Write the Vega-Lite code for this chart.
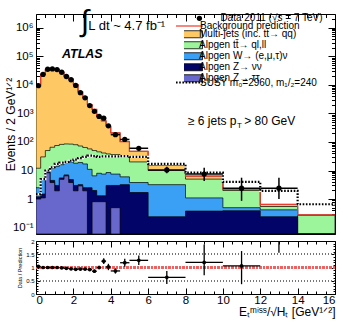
{
  "$schema": "https://vega.github.io/schema/vega-lite/v6.json",
  "padding": {"left": 3, "top": 6, "right": 12, "bottom": 2},
  "bounds": "flush",
  "spacing": 7,
  "config": {
    "font": "Liberation Sans",
    "view": {"stroke": "black", "strokeWidth": 1},
    "axis": {"domain": false, "grid": false, "tickColor": "black", "labelColor": "black", "titleColor": "black", "titleFontWeight": "normal", "zindex": 1},
    "legend": {"padding": 0, "labelFontSize": 10, "labelLimit": 300, "labelOffset": 5, "title": null, "orient": "none", "symbolStrokeColor": "black"}
  },
  "datasets": {
    "hist": [
      {"x": 0, "mj": 9000, "tt": 12, "w": 2.5, "znn": 1.2, "ztt": 1.0, "susy": 1.5},
      {"x": 0.25, "mj": 23000, "tt": 30, "w": 5, "znn": 1.5, "ztt": 1.1, "susy": 5},
      {"x": 0.5, "mj": 35000, "tt": 50, "w": 8.5, "znn": 9.0, "ztt": 8.3, "susy": 10},
      {"x": 0.75, "mj": 36000, "tt": 65, "w": 12, "znn": 4.5, "ztt": 3.8, "susy": 13},
      {"x": 1, "mj": 34000, "tt": 75, "w": 14, "znn": 3.0, "ztt": 1.95, "susy": 17},
      {"x": 1.25, "mj": 27800, "tt": 82, "w": 16, "znn": 5.5, "ztt": 4.9, "susy": 19},
      {"x": 1.5, "mj": 20100, "tt": 85, "w": 19, "znn": 7.0, "ztt": 6.5, "susy": 20},
      {"x": 1.75, "mj": 15800, "tt": 84, "w": 20, "znn": 4.8, "ztt": 3.8, "susy": 22},
      {"x": 2, "mj": 10200, "tt": 80, "w": 18, "znn": 3.0, "ztt": 1.95, "susy": 24},
      {"x": 2.25, "mj": 5640, "tt": 72, "w": 19, "znn": 3.2, "ztt": 2.9, "susy": 27},
      {"x": 2.5, "mj": 3720, "tt": 64, "w": 17, "znn": 2.5, "ztt": 1.95, "susy": 30},
      {"x": 2.75, "mj": 2030, "tt": 57, "w": 11, "znn": 2.5, "ztt": 0.001, "susy": 33},
      {"x": 3, "mj": 1370, "tt": 50, "w": 6.5, "znn": 2.0, "ztt": 0.81, "susy": 32},
      {"x": 3.25, "mj": 780, "tt": 45, "w": 8, "znn": 1.3, "ztt": 0.81, "susy": 30},
      {"x": 3.5, "mj": 550, "tt": 41, "w": 7.5, "znn": 1.3, "ztt": 0.81, "susy": 31},
      {"x": 3.75, "mj": 358, "tt": 38, "w": 8.5, "znn": 3.0, "ztt": 0.001, "susy": 31},
      {"x": 4, "mj": 207, "tt": 36, "w": 7.5, "znn": 3.0, "ztt": 0.5, "susy": 31},
      {"x": 4.5, "mj": 103, "tt": 32, "w": 6, "znn": 3.2, "ztt": 0.001, "susy": 32},
      {"x": 5, "mj": 47, "tt": 20, "w": 3.8, "znn": 1.7, "ztt": 0.001, "susy": 30},
      {"x": 6, "mj": 15.5, "tt": 10, "w": 3.2, "znn": 0.24, "ztt": 0.001, "susy": 17},
      {"x": 8, "mj": 6.4, "tt": 5.0, "w": 1.1, "znn": 0.38, "ztt": 0.001, "susy": 8.5},
      {"x": 10, "mj": 2.25, "tt": 2.0, "w": 0.5, "znn": 0.39, "ztt": 0.001, "susy": 4.0},
      {"x": 12, "mj": 0.65, "tt": 0.55, "w": 0.42, "znn": 0.24, "ztt": 0.001, "susy": 1.95},
      {"x": 14, "mj": 0.28, "tt": 0.27, "w": 0.001, "znn": 0.001, "ztt": 0.001, "susy": 0.66},
      {"x": 16, "mj": 0.28, "tt": 0.27, "w": 0.001, "znn": 0.001, "ztt": 0.001, "susy": 0.66}
    ],
    "pts": [
      {"xc": 0.125, "lo": 0, "hi": 0.25, "d": 9300, "dlo": 9000, "dhi": 9600, "r": 1.04, "rlo": 1.01, "rhi": 1.07},
      {"xc": 0.375, "lo": 0.25, "hi": 0.5, "d": 23000, "dlo": 22500, "dhi": 23500, "r": 1.0, "rlo": 0.98, "rhi": 1.02},
      {"xc": 0.625, "lo": 0.5, "hi": 0.75, "d": 35000, "dlo": 34400, "dhi": 35600, "r": 1.0, "rlo": 0.98, "rhi": 1.02},
      {"xc": 0.875, "lo": 0.75, "hi": 1.0, "d": 36000, "dlo": 35400, "dhi": 36600, "r": 1.0, "rlo": 0.98, "rhi": 1.02},
      {"xc": 1.125, "lo": 1.0, "hi": 1.25, "d": 34000, "dlo": 33400, "dhi": 34600, "r": 1.0, "rlo": 0.98, "rhi": 1.02},
      {"xc": 1.375, "lo": 1.25, "hi": 1.5, "d": 27500, "dlo": 27000, "dhi": 28000, "r": 0.99, "rlo": 0.97, "rhi": 1.01},
      {"xc": 1.625, "lo": 1.5, "hi": 1.75, "d": 19500, "dlo": 19100, "dhi": 19900, "r": 0.97, "rlo": 0.95, "rhi": 0.99},
      {"xc": 1.875, "lo": 1.75, "hi": 2.0, "d": 15000, "dlo": 14650, "dhi": 15350, "r": 0.95, "rlo": 0.93, "rhi": 0.97},
      {"xc": 2.125, "lo": 2.0, "hi": 2.25, "d": 9500, "dlo": 9230, "dhi": 9770, "r": 0.93, "rlo": 0.9, "rhi": 0.96},
      {"xc": 2.375, "lo": 2.25, "hi": 2.5, "d": 5300, "dlo": 5100, "dhi": 5500, "r": 0.94, "rlo": 0.91, "rhi": 0.97},
      {"xc": 2.625, "lo": 2.5, "hi": 2.75, "d": 3500, "dlo": 3340, "dhi": 3660, "r": 0.94, "rlo": 0.9, "rhi": 0.98},
      {"xc": 2.875, "lo": 2.75, "hi": 3.0, "d": 1870, "dlo": 1750, "dhi": 1990, "r": 0.92, "rlo": 0.87, "rhi": 0.97},
      {"xc": 3.125, "lo": 3.0, "hi": 3.25, "d": 1180, "dlo": 1090, "dhi": 1270, "r": 0.86, "rlo": 0.8, "rhi": 0.92},
      {"xc": 3.375, "lo": 3.25, "hi": 3.5, "d": 780, "dlo": 705, "dhi": 855, "r": 1.0, "rlo": 0.93, "rhi": 1.07},
      {"xc": 3.625, "lo": 3.5, "hi": 3.75, "d": 680, "dlo": 610, "dhi": 750, "r": 1.24, "rlo": 1.13, "rhi": 1.35},
      {"xc": 3.875, "lo": 3.75, "hi": 4.0, "d": 365, "dlo": 315, "dhi": 415, "r": 1.02, "rlo": 0.9, "rhi": 1.14},
      {"xc": 4.25, "lo": 4.0, "hi": 4.5, "d": 180, "dlo": 155, "dhi": 205, "r": 0.87, "rlo": 0.77, "rhi": 0.97},
      {"xc": 4.75, "lo": 4.5, "hi": 5.0, "d": 122, "dlo": 100, "dhi": 144, "r": 1.18, "rlo": 1.03, "rhi": 1.33},
      {"xc": 5.5, "lo": 5.0, "hi": 6.0, "d": 60, "dlo": 50, "dhi": 70, "r": 1.27, "rlo": 1.09, "rhi": 1.45},
      {"xc": 7, "lo": 6.0, "hi": 8.0, "d": 10.5, "dlo": 8, "dhi": 13.5, "r": 0.63, "rlo": 0.38, "rhi": 0.87},
      {"xc": 9, "lo": 8.0, "hi": 10.0, "d": 7.5, "dlo": 4.3, "dhi": 12.6, "r": 1.19, "rlo": 0.71, "rhi": 1.87},
      {"xc": 11, "lo": 10.0, "hi": 12.0, "d": 2.4, "dlo": 0.87, "dhi": 5.6, "r": 1.06, "rlo": 0.37, "rhi": 1.62},
      {"xc": 13, "lo": 12.0, "hi": 14.0, "d": 2.4, "dlo": 1.0, "dhi": 5.6, "r": 3.5, "rlo": 1.56, "rhi": 6.0}
    ]
  },
  "vconcat": [
    {
      "width": 299,
      "height": 220,
      "resolve": {"axis": {"x": "independent", "y": "independent"}},
      "layer": [
        {
          "data": {"name": "hist"},
          "mark": {"type": "area", "interpolate": "step-after", "clip": true, "stroke": "black", "strokeWidth": 0.7},
          "encoding": {
            "x": {"field": "x", "type": "quantitative", "scale": {"domain": [0, 16], "nice": false, "zero": false},
                  "axis": {"orient": "bottom", "values": [0,0.5,1,1.5,2,2.5,3,3.5,4,4.5,5,5.5,6,6.5,7,7.5,8,8.5,9,9.5,10,10.5,11,11.5,12,12.5,13,13.5,14,14.5,15,15.5,16],
                           "labels": false, "title": null,
                           "tickSize": {"condition": {"test": "datum.value % 2 == 0", "value": -7}, "value": -3.5}}},
            "y": {"field": "mj", "type": "quantitative", "scale": {"type": "log", "domain": [0.06, 3000000], "nice": false},
                  "axis": {"orient": "left",
                           "values": [0.07,0.08,0.09,0.1,0.2,0.3,0.4,0.5,0.6,0.7,0.8,0.9,1,2,3,4,5,6,7,8,9,10,20,30,40,50,60,70,80,90,100,200,300,400,500,600,700,800,900,1000,2000,3000,4000,5000,6000,7000,8000,9000,10000,20000,30000,40000,50000,60000,70000,80000,90000,100000,200000,300000,400000,500000,600000,700000,800000,900000,1000000,2000000],
                           "tickSize": {"condition": {"test": "abs(log(datum.value)/LN10 - round(log(datum.value)/LN10)) < 0.001", "value": -7}, "value": -3.5},
                           "labelPadding": 10, "labelFontSize": 11.5,
                           "labelExpr": "abs(log(datum.value)/LN10 - round(log(datum.value)/LN10)) > 0.001 ? '' : datum.value > 500000 ? '10⁶' : datum.value > 50000 ? '10⁵' : datum.value > 5000 ? '10⁴' : datum.value > 500 ? '10³' : datum.value > 50 ? '10²' : datum.value > 5 ? '10' : datum.value > 0.5 ? '1' : '10⁻¹'",
                           "title": "Events / 2 GeV¹ᐟ²", "titleFontSize": 12, "titlePadding": -5}},
            "y2": {"datum": 0.06},
            "fill": {"datum": "Multi-jets (inc. tt̄→ qq)", "type": "nominal",
                     "scale": {"domain": ["Multi-jets (inc. tt̄→ qq)", "Alpgen tt̄→ ql,ll", "Alpgen W→ (e,μ,τ)ν", "Alpgen Z→ νν", "Alpgen Z→ ττ"],
                               "range": ["#fec965", "#9cf59a", "#3aa0f5", "#020467", "#6767cc"]},
                     "legend": {"legendX": 148, "legendY": 15.5, "clipHeight": 9.5, "rowPadding": 0,
                                "symbolType": "M-3,-0.78H3V0.78H-3Z", "symbolSize": 81, "symbolStrokeColor": "black", "symbolStrokeWidth": 0.8, "symbolOpacity": 1}}
          }
        },
        {
          "data": {"name": "hist"},
          "mark": {"type": "area", "interpolate": "step-after", "clip": true, "stroke": "black", "strokeWidth": 0.7},
          "encoding": {"x": {"field": "x", "type": "quantitative", "axis": null}, "y": {"field": "tt", "type": "quantitative", "axis": null}, "y2": {"datum": 0.06},
                       "fill": {"datum": "Alpgen tt̄→ ql,ll", "type": "nominal"}}
        },
        {
          "data": {"name": "hist"},
          "mark": {"type": "area", "interpolate": "step-after", "clip": true, "stroke": "black", "strokeWidth": 0.7},
          "encoding": {"x": {"field": "x", "type": "quantitative", "axis": null}, "y": {"field": "w", "type": "quantitative", "axis": null}, "y2": {"datum": 0.06},
                       "fill": {"datum": "Alpgen W→ (e,μ,τ)ν", "type": "nominal"}}
        },
        {
          "data": {"name": "hist"},
          "mark": {"type": "area", "interpolate": "step-after", "clip": true, "stroke": "black", "strokeWidth": 0.7},
          "encoding": {"x": {"field": "x", "type": "quantitative", "axis": null}, "y": {"field": "znn", "type": "quantitative", "axis": null}, "y2": {"datum": 0.06},
                       "fill": {"datum": "Alpgen Z→ νν", "type": "nominal"}}
        },
        {
          "data": {"name": "hist"},
          "mark": {"type": "area", "interpolate": "step-after", "clip": true, "stroke": "black", "strokeWidth": 0.7},
          "encoding": {"x": {"field": "x", "type": "quantitative", "axis": null}, "y": {"field": "ztt", "type": "quantitative", "axis": null}, "y2": {"datum": 0.06},
                       "fill": {"datum": "Alpgen Z→ ττ", "type": "nominal"}}
        },
        {
          "data": {"name": "hist"},
          "mark": {"type": "line", "interpolate": "step-after", "clip": true, "strokeWidth": 1.2},
          "encoding": {"x": {"field": "x", "type": "quantitative", "axis": null}, "y": {"field": "mj", "type": "quantitative", "axis": null},
                       "stroke": {"datum": "Background prediction", "type": "nominal", "scale": {"range": ["#ee3b2e"]},
                                  "legend": {"legendX": 148, "legendY": 6.5, "symbolType": "M-3,0H3", "symbolSize": 81, "symbolStrokeWidth": 1.2, "symbolFillColor": "transparent"}}}
        },
        {
          "data": {"name": "hist"},
          "mark": {"type": "line", "interpolate": "step-after", "clip": true, "strokeWidth": 2.2, "color": "white"},
          "encoding": {
            "x": {"field": "x", "type": "quantitative",
                  "axis": {"orient": "top", "values": [0,0.5,1,1.5,2,2.5,3,3.5,4,4.5,5,5.5,6,6.5,7,7.5,8,8.5,9,9.5,10,10.5,11,11.5,12,12.5,13,13.5,14,14.5,15,15.5,16],
                           "labels": false, "title": null,
                           "tickSize": {"condition": {"test": "datum.value % 2 == 0", "value": -7}, "value": -3.5}}},
            "y": {"field": "susy", "type": "quantitative",
                  "axis": {"orient": "right",
                           "values": [0.07,0.08,0.09,0.1,0.2,0.3,0.4,0.5,0.6,0.7,0.8,0.9,1,2,3,4,5,6,7,8,9,10,20,30,40,50,60,70,80,90,100,200,300,400,500,600,700,800,900,1000,2000,3000,4000,5000,6000,7000,8000,9000,10000,20000,30000,40000,50000,60000,70000,80000,90000,100000,200000,300000,400000,500000,600000,700000,800000,900000,1000000,2000000],
                           "labels": false, "title": null,
                           "tickSize": {"condition": {"test": "abs(log(datum.value)/LN10 - round(log(datum.value)/LN10)) < 0.001", "value": -7}, "value": -3.5}}}
          }
        },
        {
          "data": {"name": "hist"},
          "mark": {"type": "line", "interpolate": "step-after", "clip": true, "strokeWidth": 2.2, "color": "black"},
          "encoding": {"x": {"field": "x", "type": "quantitative", "axis": null}, "y": {"field": "susy", "type": "quantitative", "axis": null},
                       "strokeDash": {"datum": "SUSY m₀=2960, m₁/₂=240", "type": "nominal", "scale": {"range": [[1.6, 1.6]]},
                                      "legend": {"legendX": 148, "legendY": 63, "symbolType": "M-3,0H3", "symbolSize": 81, "symbolStrokeWidth": 2, "symbolStrokeColor": "black", "symbolFillColor": "transparent"}}}
        },
        {
          "data": {"name": "pts"},
          "mark": {"type": "rule", "clip": true, "strokeWidth": 1.5, "color": "black"},
          "encoding": {"x": {"field": "xc", "type": "quantitative", "axis": null}, "y": {"field": "dlo", "type": "quantitative", "axis": null}, "y2": {"field": "dhi"}}
        },
        {
          "data": {"name": "pts"},
          "mark": {"type": "rule", "clip": true, "strokeWidth": 1.5, "color": "black"},
          "encoding": {"x": {"field": "lo", "type": "quantitative", "axis": null}, "x2": {"field": "hi"}, "y": {"field": "d", "type": "quantitative", "axis": null}}
        },
        {
          "data": {"name": "pts"},
          "mark": {"type": "point", "filled": true, "size": 28, "color": "black", "opacity": 1, "clip": true},
          "encoding": {"x": {"field": "xc", "type": "quantitative", "axis": null}, "y": {"field": "d", "type": "quantitative", "axis": null},
                       "shape": {"datum": "Data 2011 (√s = 7 TeV)", "type": "nominal", "scale": {"range": ["circle"]},
                                 "legend": {"legendX": 158.4, "legendY": -0.7, "labelOffset": 16, "symbolSize": 28, "symbolFillColor": "black", "symbolStrokeColor": "black"}}}
        },
        {
          "data": {"values": [{}]},
          "mark": {"type": "text", "text": "∫", "fontSize": 30, "align": "center", "baseline": "middle"},
          "encoding": {"x": {"datum": 2.62, "axis": null}, "y": {"datum": 1620000, "axis": null}}
        },
        {
          "data": {"values": [{}]},
          "mark": {"type": "text", "text": "L dt ~ 4.7 fb⁻¹", "fontSize": 13, "align": "left", "baseline": "alphabetic"},
          "encoding": {"x": {"datum": 2.8, "axis": null}, "y": {"datum": 794000, "axis": null}}
        },
        {
          "data": {"values": [{}]},
          "mark": {"type": "text", "text": "ATLAS", "fontSize": 12.5, "fontWeight": "bold", "fontStyle": "italic", "align": "left", "baseline": "alphabetic"},
          "encoding": {"x": {"datum": 1.39, "axis": null}, "y": {"datum": 90000, "axis": null}}
        },
        {
          "data": {"values": [{}]},
          "mark": {"type": "text", "text": "≥ 6 jets p", "fontSize": 12, "align": "left", "baseline": "alphabetic"},
          "encoding": {"x": {"datum": 8.13, "axis": null}, "y": {"datum": 384, "axis": null}}
        },
        {
          "data": {"values": [{}]},
          "mark": {"type": "text", "text": "T", "fontSize": 8, "align": "left", "baseline": "alphabetic"},
          "encoding": {"x": {"datum": 10.75, "axis": null}, "y": {"datum": 302, "axis": null}}
        },
        {
          "data": {"values": [{}]},
          "mark": {"type": "text", "text": "> 80 GeV", "fontSize": 12, "align": "left", "baseline": "alphabetic"},
          "encoding": {"x": {"datum": 11.14, "axis": null}, "y": {"datum": 384, "axis": null}}
        }
      ]
    },
    {
      "width": 299,
      "height": 53,
      "data": {"name": "pts"},
      "resolve": {"axis": {"x": "independent", "y": "independent"}},
      "layer": [
        {
          "mark": {"type": "rule", "color": "#777777", "strokeDash": [1, 2], "strokeWidth": 0.8},
          "encoding": {"y": {"datum": 0.5, "type": "quantitative", "scale": {"domain": [0, 2], "nice": false, "zero": false},
                             "axis": {"orient": "left", "values": [0,0.1,0.2,0.3,0.4,0.5,0.6,0.7,0.8,0.9,1,1.1,1.2,1.3,1.4,1.5,1.6,1.7,1.8,1.9,2],
                                      "tickSize": {"condition": {"test": "abs(datum.value*2 - round(datum.value*2)) < 0.001", "value": -4}, "value": -2},
                                      "labelExpr": "abs(datum.value*2 - round(datum.value*2)) < 0.001 ? toString(datum.value) : ''",
                                      "labelPadding": 6, "labelFontSize": 6,
                                      "title": "Data / Prediction", "titleFontSize": 5.5, "titlePadding": 3}}}
        },
        {
          "mark": {"type": "rule", "color": "#777777", "strokeDash": [1, 2], "strokeWidth": 0.8},
          "encoding": {"y": {"datum": 1.5, "type": "quantitative", "axis": null}}
        },
        {
          "mark": {"type": "rule", "color": "#f06060", "strokeDash": [2, 1.5], "strokeWidth": 1.5},
          "encoding": {"y": {"datum": 1, "type": "quantitative", "axis": null}}
        },
        {
          "mark": {"type": "rule", "clip": true, "strokeWidth": 1.3, "color": "black"},
          "encoding": {"x": {"field": "xc", "type": "quantitative", "scale": {"domain": [0, 16], "nice": false, "zero": false},
                             "axis": {"orient": "bottom", "values": [0,0.5,1,1.5,2,2.5,3,3.5,4,4.5,5,5.5,6,6.5,7,7.5,8,8.5,9,9.5,10,10.5,11,11.5,12,12.5,13,13.5,14,14.5,15,15.5,16],
                                      "tickSize": {"condition": {"test": "datum.value % 2 == 0", "value": -6}, "value": -3},
                                      "labelExpr": "datum.value % 2 == 0 ? toString(datum.value) : ''",
                                      "labelPadding": 6, "labelFontSize": 11.5,
                                      "title": "Eₜᵐⁱˢˢ/√Hₜ [GeV¹ᐟ²]", "titleFontSize": 12, "titleAnchor": "end", "titlePadding": 1}},
                       "y": {"field": "rlo", "type": "quantitative",
                             "axis": {"orient": "right", "values": [0,0.1,0.2,0.3,0.4,0.5,0.6,0.7,0.8,0.9,1,1.1,1.2,1.3,1.4,1.5,1.6,1.7,1.8,1.9,2],
                                      "labels": false, "title": null,
                                      "tickSize": {"condition": {"test": "abs(datum.value*2 - round(datum.value*2)) < 0.001", "value": -4}, "value": -2}}},
                       "y2": {"field": "rhi"}}
        },
        {
          "mark": {"type": "rule", "clip": true, "strokeWidth": 1.3, "color": "black"},
          "encoding": {"x": {"field": "lo", "type": "quantitative", "axis": null}, "x2": {"field": "hi"}, "y": {"field": "r", "type": "quantitative", "axis": null}}
        },
        {
          "mark": {"type": "point", "filled": true, "size": 14, "color": "black", "opacity": 1, "clip": true},
          "encoding": {"x": {"field": "xc", "type": "quantitative",
                             "axis": {"orient": "top", "values": [0,0.5,1,1.5,2,2.5,3,3.5,4,4.5,5,5.5,6,6.5,7,7.5,8,8.5,9,9.5,10,10.5,11,11.5,12,12.5,13,13.5,14,14.5,15,15.5,16],
                                      "labels": false, "title": null,
                                      "tickSize": {"condition": {"test": "datum.value % 2 == 0", "value": -6}, "value": -3}}},
                       "y": {"field": "r", "type": "quantitative", "axis": null}}
        }
      ]
    }
  ]
}
